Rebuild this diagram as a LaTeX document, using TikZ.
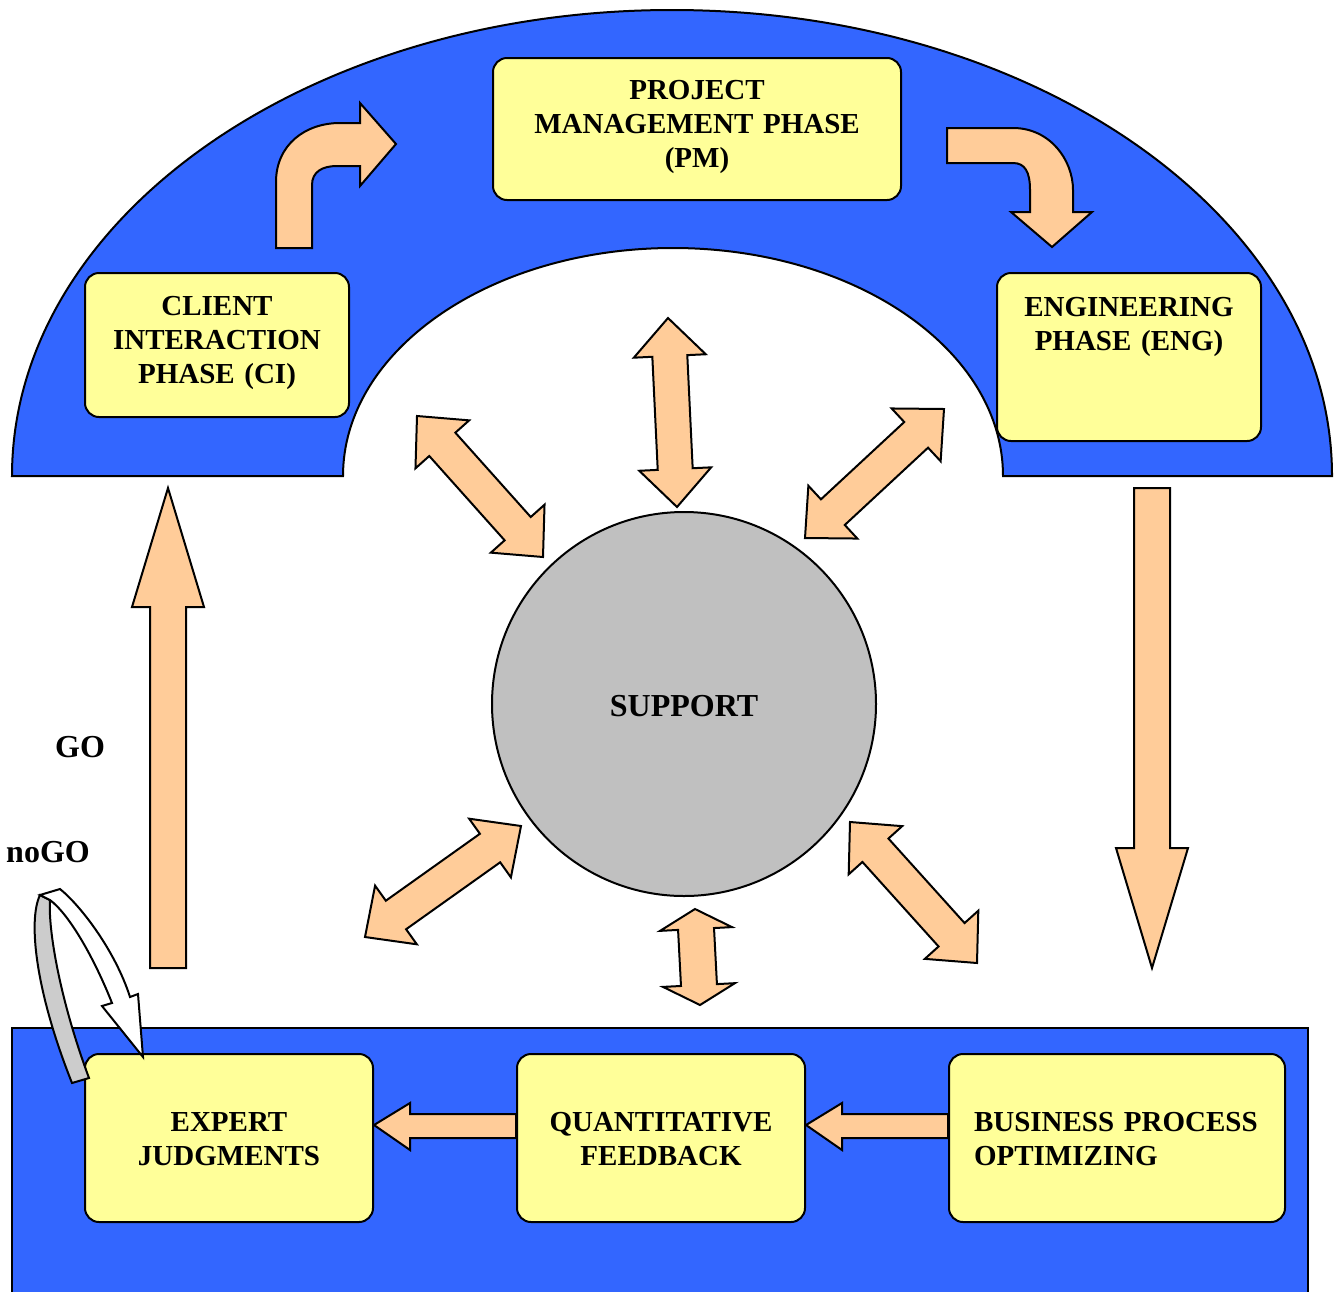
\documentclass[tikz,border=0pt]{standalone}
\usepackage{fontspec}
\setmainfont{Liberation Serif}
\usetikzlibrary{calc}

\definecolor{archblue}{HTML}{3366FF}
\definecolor{boxyellow}{HTML}{FFFF99}
\definecolor{peach}{HTML}{FFCC99}
\definecolor{supportgray}{HTML}{C0C0C0}
\definecolor{loopgray}{HTML}{CCCCCC}

% double-headed block arrow between two points:
% #1,#2 end points, #3 shaft half width, #4 head half width, #5 head length
\newcommand\dblarrow[5]{%
  \coordinate (da1) at #1;
  \coordinate (da2) at #2;
  \coordinate (dp1) at ($(da1)!#5!(da2)$);
  \coordinate (dp2) at ($(da2)!#5!(da1)$);
  \draw[blockarrow] (da1) -- ($(dp1)!#4!90:(da2)$) -- ($(dp1)!#3!90:(da2)$)
    -- ($(dp2)!#3!-90:(da1)$) -- ($(dp2)!#4!-90:(da1)$) -- (da2)
    -- ($(dp2)!#4!90:(da1)$) -- ($(dp2)!#3!90:(da1)$)
    -- ($(dp1)!#3!-90:(da2)$) -- ($(dp1)!#4!-90:(da2)$) -- cycle;}

\begin{document}
\begin{tikzpicture}[x=1pt,y=-1pt,
  outline/.style={draw=black,line width=2pt,line join=miter},
  blockarrow/.style={outline,fill=peach},
  labelfont/.style={font=\fontsize{29}{34}\selectfont\bfseries},
  bigfont/.style={font=\fontsize{32}{38}\selectfont\bfseries},
  phasebox/.style={outline,fill=boxyellow,rounded corners=14pt,rectangle,
    inner sep=0pt,labelfont,align=center,anchor=north west}]
\useasboundingbox (0,0) rectangle (1338,1291);

% upper arch
\fill[archblue] (12,476) arc[start angle=180,end angle=0,x radius=660pt,y radius=466pt]
  -- (1003,476) arc[start angle=0,end angle=180,x radius=330pt,y radius=228pt] -- cycle;
\draw[outline] (12,476) arc[start angle=180,end angle=0,x radius=660pt,y radius=466pt]
  -- (1003,476) arc[start angle=0,end angle=180,x radius=330pt,y radius=228pt] -- cycle;

% lower band
\fill[archblue] (12,1028) rectangle (1308,1300);
\draw[outline] (12,1300) -- (12,1028) -- (1308,1028) -- (1308,1300);

% phase boxes
\node[phasebox,text width=408pt,text height=41.6pt,text depth=100.4pt] (pm) at (492,57)
  {PROJECT\\MANAGEMENT PHASE\\(PM)};
\node[phasebox,text width=264pt,text height=42.6pt,text depth=101.4pt] (ci) at (84,272)
  {CLIENT\\INTERACTION\\PHASE (CI)};
\node[phasebox,text width=264pt,text height=43.6pt,text depth=124.4pt] (eng) at (996,272)
  {ENGINEERING\\PHASE (ENG)};
\node[phasebox,text width=288pt,text height=77.6pt,text depth=90.4pt] (expert) at (84,1053)
  {EXPERT\\JUDGMENTS};
\node[phasebox,text width=288pt,text height=77.6pt,text depth=90.4pt] (quant) at (516,1053)
  {QUANTITATIVE\\FEEDBACK};
\node[phasebox,text width=286pt,inner xsep=25pt,align=left,text height=77.6pt,text depth=90.4pt] (bpo) at (948,1053)
  {BUSINESS PROCESS\\OPTIMIZING};

% support hub
\node[outline,circle,fill=supportgray,minimum size=384pt,inner sep=0pt] (support) at (684,704) {};
\node[bigfont] (supportlabel) at (684,706) {SUPPORT};

% curved arrow from CI towards PM
\draw[blockarrow] (276,248) -- (276,182) .. controls (276,145) and (305,123) .. (340,123)
  -- (360,123) -- (360,103) -- (396,144) -- (360,186) -- (360,166) -- (337,166)
  .. controls (322,166) and (312,172) .. (312,185) -- (312,248) -- cycle;

% curved arrow from PM towards ENG
\draw[blockarrow] (947,128) -- (1013,128) .. controls (1050,128) and (1073,160) .. (1073,190)
  -- (1073,212) -- (1092,212) -- (1052,247) -- (1011,212) -- (1030,212) -- (1030,190)
  .. controls (1030,172) and (1025,163) .. (1013,163) -- (947,163) -- cycle;

% GO arrow up to CI, arrow down from ENG
\draw[blockarrow] (150,968) -- (150,607) -- (132,607) -- (168,488) -- (204,607)
  -- (186,607) -- (186,968) -- cycle;
\draw[blockarrow] (1134,488) -- (1134,848) -- (1116,848) -- (1152,968) -- (1188,848)
  -- (1170,848) -- (1170,488) -- cycle;

% arrows along the lower band
\draw[blockarrow] ($(bpo.west)+(0,-24)$) -- ($(quant.east)+(36,-24)$) -- ($(quant.east)+(36,-35)$)
  -- ($(quant.east)+(0,-13)$) -- ($(quant.east)+(36,12)$) -- ($(quant.east)+(36,0)$)
  -- ($(bpo.west)+(0,0)$) -- cycle;
\draw[blockarrow] ($(quant.west)+(0,-24)$) -- ($(expert.east)+(36,-24)$) -- ($(expert.east)+(36,-35)$)
  -- ($(expert.east)+(0,-13)$) -- ($(expert.east)+(36,12)$) -- ($(expert.east)+(36,0)$)
  -- ($(quant.west)+(0,0)$) -- cycle;

% double arrows around the support hub
\dblarrow{(668,318)}{(677,507)}{17.5pt}{36pt}{38pt}
\dblarrow{(417,416)}{(543,557)}{17.5pt}{36pt}{38pt}
\dblarrow{(944,409)}{(805,538)}{17.5pt}{36pt}{38pt}
\dblarrow{(521,826)}{(365,937)}{17.5pt}{36pt}{38pt}
\dblarrow{(850,822)}{(977,963)}{17.5pt}{36pt}{38pt}
\dblarrow{(695,909)}{(700,1005)}{18pt}{36pt}{20pt}

% noGO loop back onto the expert judgments
\draw[outline,fill=loopgray] (40,895) .. controls (28,920) and (35,990) .. (72,1083)
  -- (89,1078) .. controls (60,1000) and (48,930) .. (50,900) -- cycle;
\draw[outline,fill=white] (40,895) -- (60,889) .. controls (80,905) and (115,950) .. (130,997)
  -- (138,994) -- (143,1057) -- (102,1006) -- (112,1003)
  .. controls (95,960) and (70,915) .. (50,900) -- cycle;

% decision labels
\node[bigfont] (go) at (80,747) {GO};
\node[bigfont] (nogo) at (48,852) {noGO};
\end{tikzpicture}
\end{document}
